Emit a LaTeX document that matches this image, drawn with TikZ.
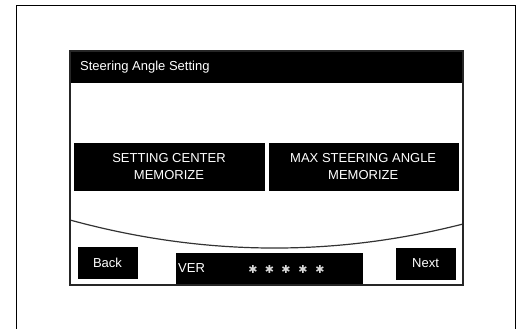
\documentclass[tikz,border=0pt]{standalone}
\usepackage{fontspec}
\setmainfont{Liberation Sans}
\newfontfamily\symfont{DejaVu Sans}
\begin{document}
\begin{tikzpicture}[x=1pt,y=-1pt,
  blackbox/.style={draw=black,fill=black,text=white,inner sep=0pt,align=center,font=\fontsize{13}{17}\selectfont},
  label13/.style={text=white,inner sep=0pt,font=\fontsize{13}{15}\selectfont},
  star/.style={text=white!85!black,inner sep=0pt,font=\symfont\fontsize{11}{11}\selectfont}]
\useasboundingbox (0,0) rectangle (528,329);
% outer frame
\draw[line width=1pt] (16,329) -- (16,5.3) -- (515,5.3) -- (515,329);
% screen
\node[blackbox,minimum width=393pt,minimum height=31pt] (titlebar) at (266.5,66.5) {};
\node[label13,anchor=west] (title) at (80,67) {Steering Angle Setting};
\node[blackbox,minimum width=190pt,minimum height=47pt] (center) at (169,166.5) {SETTING CENTER\\MEMORIZE};
\node[blackbox,minimum width=189pt,minimum height=47pt] (maxangle) at (363.2,166.5) {MAX STEERING ANGLE\\MEMORIZE};
\node[blackbox,minimum width=59pt,minimum height=31pt] (back) at (107.5,263) {Back};
\node[blackbox,minimum width=59pt,minimum height=31pt] (next) at (425.5,263.5) {Next};
\node[blackbox,minimum width=186.6pt,minimum height=32pt] (ver) at (269,269) {};
\node[label13,anchor=west] (vertext) at (178,268) {VER};
\foreach \i/\x in {1/253,2/269.5,3/286,4/303,5/320}{
  \node[star] (s\i) at (\x,269) {✱};
}
\draw[line width=1.2pt,black!80] (70,220) .. controls (201.7,256) and (332.7,257.3) .. (463,224);
\draw[line width=1.6pt,black!85] (70,51) rectangle (463,285);
\end{tikzpicture}
\end{document}
